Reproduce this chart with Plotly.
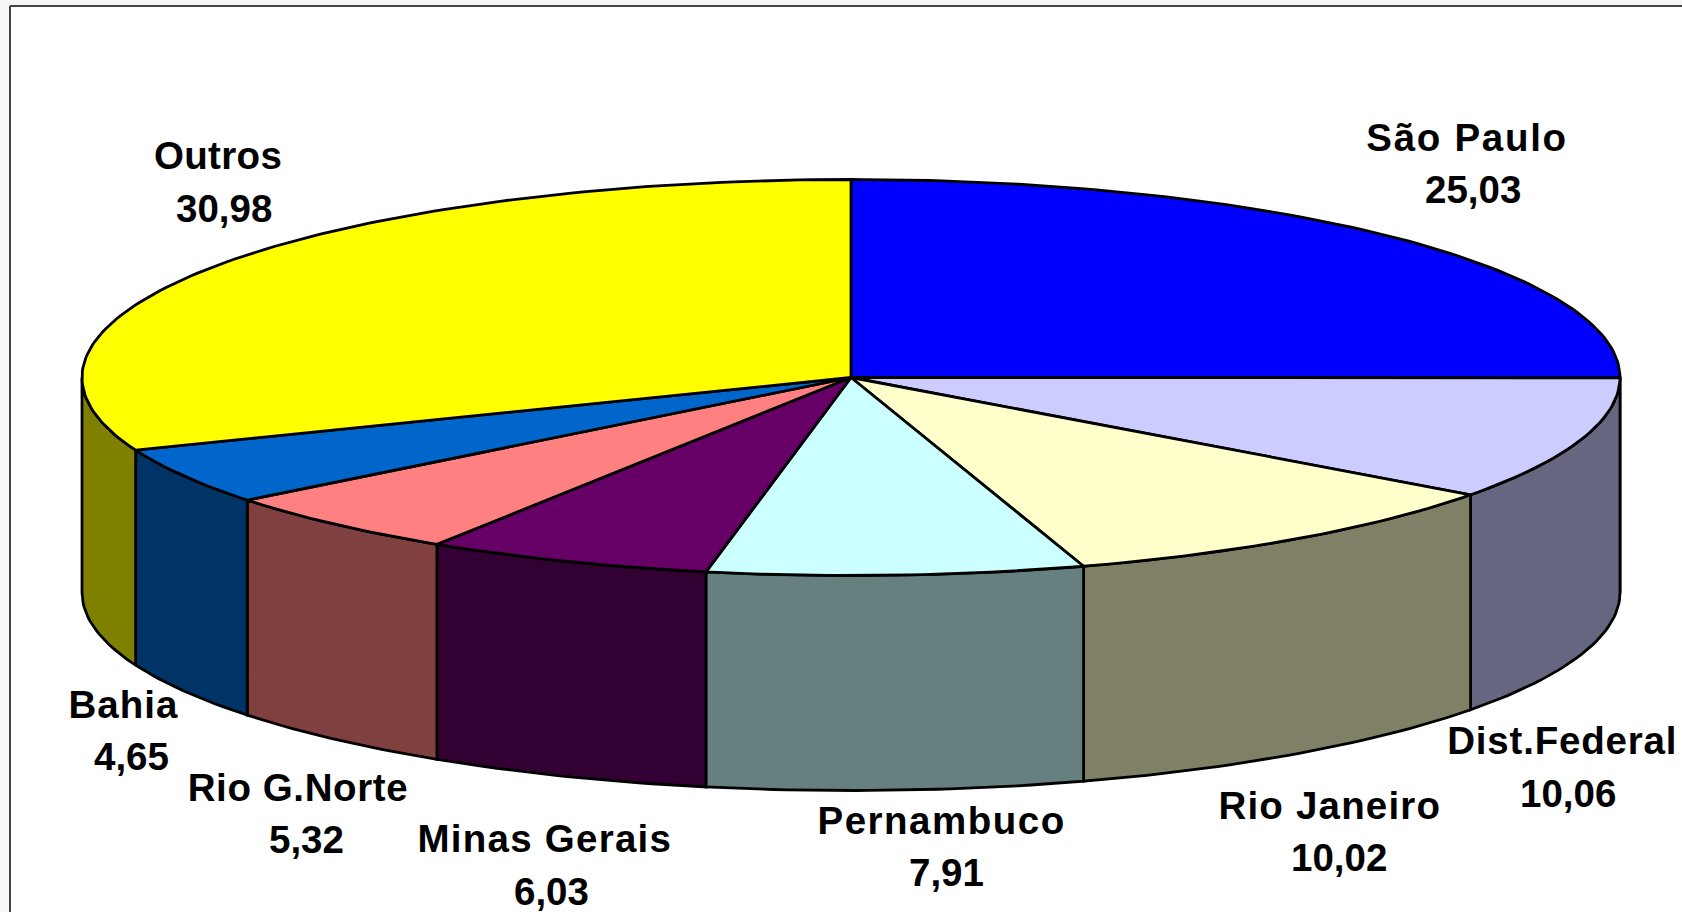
import json
import numpy as np
import plotly.graph_objects as go

names = ["São Paulo", "Dist.Federal", "Rio Janeiro", "Pernambuco", "Minas Gerais", "Rio G.Norte", "Bahia", "Outros"]
values = [25.03, 10.06, 10.02, 7.91, 6.03, 5.32, 4.65, 30.98]
value_labels = ["25,03", "10,06", "10,02", "7,91", "6,03", "5,32", "4,65", "30,98"]
top_colors = ["#0000FF", "#CCCCFF", "#FFFFCC", "#CCFFFF", "#660066", "#FF8080", "#0066CC", "#FFFF00"]
side_colors = ["#000080", "#666680", "#808066", "#668080", "#330033", "#804040", "#003366", "#808000"]
name_pos = [(1467, 137), (1562, 740), (1330, 805), (941, 820), (545, 838), (298, 787), (123, 704), (218, 155)]
value_pos = [(1473, 189), (1568, 793), (1339, 857), (946, 872), (551, 891), (306, 839), (131, 756), (224, 208)]
name_tracking = [1.7, 0.8, 1.2, 1.5, 1.25, 0.6, 1.0, 0.35]

CX, CY, RX, RY, DEPTH = 851, 377.5, 769, 198, 215
FONT = dict(family="Liberation Sans, Arial, sans-serif", size=38.5, color="#000000")
OUTLINE = dict(color="#000000", width=2.8)

edges = np.cumsum([0] + values) / sum(values) * 2 * np.pi
fig = go.Figure()


def rim(a, b):
    t = np.linspace(a, b, max(2, int((b - a) * 60)))
    return CX + RX * np.sin(t), CY - RY * np.cos(t)


# visible outer walls (front half of the ellipse only)
for i, c in enumerate(side_colors):
    a, b = max(edges[i], np.pi / 2), min(edges[i + 1], 1.5 * np.pi)
    if b <= a:
        continue
    x, y = rim(a, b)
    fig.add_trace(go.Scatter(
        x=np.r_[x, x[::-1], x[0]], y=np.r_[y, y[::-1] + DEPTH, y[0]],
        mode="lines", fill="toself", fillcolor=c,
        line=OUTLINE, hoverinfo="skip", showlegend=False))

# top faces
for i, c in enumerate(top_colors):
    x, y = rim(edges[i], edges[i + 1])
    fig.add_trace(go.Scatter(
        x=np.r_[CX, x, CX], y=np.r_[CY, y, CY],
        mode="lines", fill="toself", fillcolor=c, name=names[i],
        line=OUTLINE, hovertemplate="%{fullData.name}<extra></extra>",
        showlegend=False))

annotations = []
spacing = []
for n, v, pn, pv, tr in zip(names, value_labels, name_pos, value_pos, name_tracking):
    for text, p, s in ((n, pn, tr), (v, pv, 0)):
        annotations.append(dict(x=p[0], y=p[1], text=f"<b>{text}</b>", showarrow=False,
                                xref="x", yref="y", xanchor="center", yanchor="middle", font=FONT))
        spacing.append(s)

fig.update_layout(
    width=1682, height=912, autosize=False,
    margin=dict(l=0, r=0, t=0, b=0),
    paper_bgcolor="#FFFFFF", plot_bgcolor="#FFFFFF",
    xaxis=dict(range=[0, 1682], visible=False, fixedrange=True),
    yaxis=dict(range=[912, 0], visible=False, fixedrange=True),
    annotations=annotations,
    shapes=[
        dict(type="rect", x0=0, x1=9, y0=0, y1=912, fillcolor="#F6F8F6", line_width=0, layer="below"),
        dict(type="rect", x0=0, x1=1682, y0=0, y1=6, fillcolor="#F6F8F6", line_width=0, layer="below"),
        dict(type="line", x0=10, x1=10, y0=6, y1=912, line=dict(color="#444444", width=2)),
        dict(type="line", x0=10, x1=1682, y0=6, y1=6, line=dict(color="#444444", width=2)),
    ],
)
post = (
    "document.body.style.margin='0';document.body.style.overflow='hidden';"
    f"var sp={json.dumps(spacing)};"
    "document.querySelectorAll('.annotation-text').forEach(function(e,i){"
    "e.style.letterSpacing=sp[i]+'px';});"
)
fig.write_html("out.html", config={"displayModeBar": False}, post_script=post)
